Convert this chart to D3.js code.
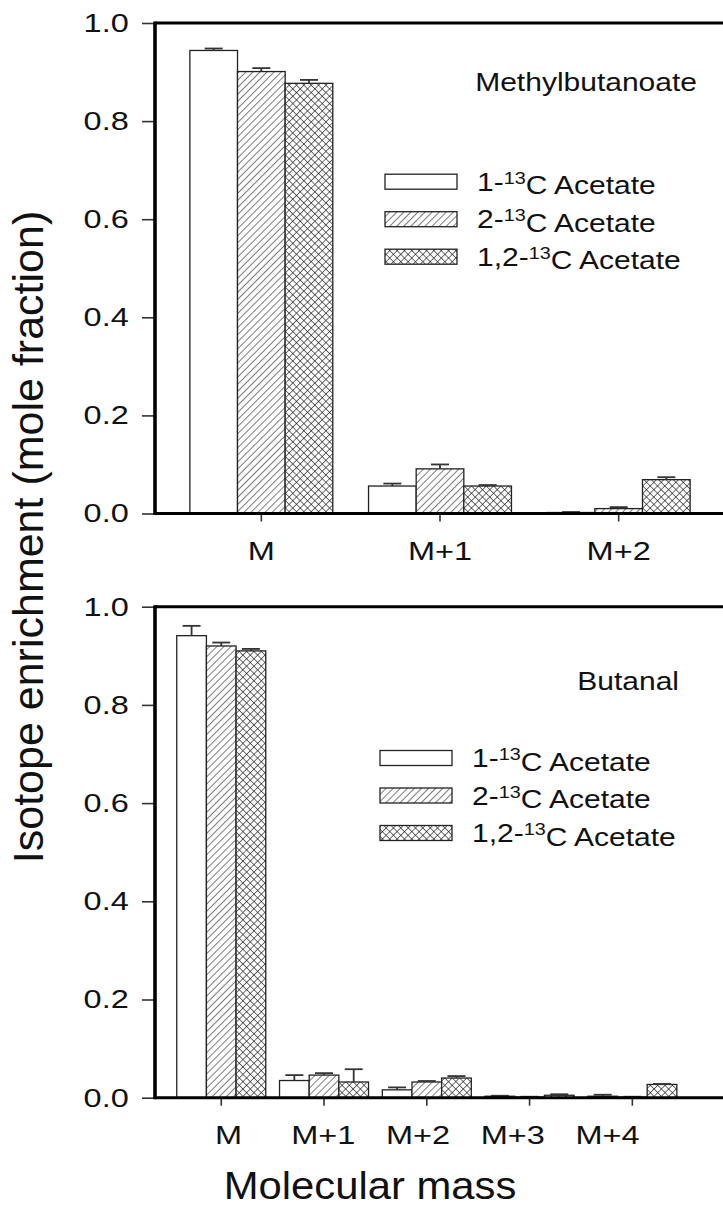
<!DOCTYPE html>
<html>
<head>
<meta charset="utf-8">
<script src="https://cdn.jsdelivr.net/npm/d3@7"></script>
<style>
  body { margin: 0; background: #fff; }
  text { font-family: "Liberation Sans", Arial, sans-serif; fill: #111; }
</style>
</head>
<body>
<div id="chart"></div>
<script>
// series (label parts: prefix, superscript, suffix)
const seriesKeys = ['a1', 'a2', 'a12'];
const seriesLabels = [['1-', '13', 'C Acetate'], ['2-', '13', 'C Acetate'], ['1,2-', '13', 'C Acetate']];
const yTicks = [0, 0.2, 0.4, 0.6, 0.8, 1.0];

// Methylbutanoate
const topCats = ['M', 'M+1', 'M+2'];
const topMean1 = [0.944, 0.056, 0.002];
const topErr1 = [0.004, 0.005, 0.001];
const topMean2 = [0.901, 0.091, 0.010];
const topErr2 = [0.007, 0.009, 0.003];
const topMean3 = [0.877, 0.056, 0.069];
const topErr3 = [0.007, 0.002, 0.005];

// Butanal
const botCats = ['M', 'M+1', 'M+2', 'M+3', 'M+4'];
const botMean1 = [0.941, 0.035, 0.016, 0.003, 0.003];
const botErr1 = [0.020, 0.011, 0.005, 0.001, 0.003];
const botMean2 = [0.920, 0.046, 0.032, 0.001, 0.001];
const botErr2 = [0.007, 0.004, 0.002, 0.001, 0.001];
const botMean3 = [0.910, 0.032, 0.040, 0.005, 0.027];
const botErr3 = [0.004, 0.026, 0.004, 0.002, 0.001];

const W = 723, H = 1209;
const SX = 1.2;   // text in the source is horizontally stretched
const TSX = 1.25; // tick labels a bit more
const fills = ['#fff', 'url(#hatch)', 'url(#cross)'];

const svg = d3.select('#chart').append('svg')
  .attr('width', W)
  .attr('height', H);

svg.append('rect').attr('width', W).attr('height', H).attr('fill', '#fff');

const defs = svg.append('defs');
const hatch = defs.append('pattern')
  .attr('id', 'hatch')
  .attr('patternUnits', 'userSpaceOnUse')
  .attr('width', 5).attr('height', 5)
  .attr('patternTransform', 'rotate(45)');
hatch.append('rect').attr('width', 5).attr('height', 5).attr('fill', '#fff');
hatch.append('line').attr('x1', 0).attr('y1', 0).attr('x2', 0).attr('y2', 5)
  .attr('stroke', '#111').attr('stroke-width', 1.1);

const cross = defs.append('pattern')
  .attr('id', 'cross')
  .attr('patternUnits', 'userSpaceOnUse')
  .attr('width', 5.2).attr('height', 5.2)
  .attr('patternTransform', 'rotate(45)');
cross.append('rect').attr('width', 5.2).attr('height', 5.2).attr('fill', '#fff');
cross.append('line').attr('x1', 0).attr('y1', 0).attr('x2', 0).attr('y2', 5.2)
  .attr('stroke', '#111').attr('stroke-width', 1.2);
cross.append('line').attr('x1', 0).attr('y1', 0).attr('x2', 5.2).attr('y2', 0)
  .attr('stroke', '#111').attr('stroke-width', 1.2);

const addText = (g, x, y, size, anchor, sx = SX) => g.append('text')
  .attr('transform', `translate(${x},${y}) scale(${sx},1)`)
  .attr('text-anchor', anchor)
  .style('font-size', size + 'px');

const supLabel = (t, parts) => {
  t.append('tspan').text(parts[0]);
  t.append('tspan').attr('dy', '-0.42em').style('font-size', '0.66em').text(parts[1]);
  t.append('tspan').attr('dy', '0.42em').text(parts[2]);
};

const styleTicks = (ax) => {
  ax.select('.domain').remove();
  ax.selectAll('.tick line').attr('stroke', '#333').attr('stroke-width', 1.6);
  ax.selectAll('.tick text')
    .attr('transform', `scale(${TSX},1)`)
    .style('font-size', '26px')
    .style('font-family', '"Liberation Sans", Arial, sans-serif')
    .attr('fill', '#111');
};

function panel(cfg) {
  const g = svg.append('g');
  const y = d3.scaleLinear().domain([0, 1]).range([cfg.y0, cfg.y1]);
  const x0 = d3.scaleBand().domain(cfg.cats).range(cfg.xr)
    .paddingInner(cfg.pin).paddingOuter(cfg.pout);
  const x1 = d3.scaleBand().domain(seriesKeys).range([0, x0.bandwidth()]);

  const rows = cfg.cats.map((c, i) => ({
    cat: c,
    vals: seriesKeys.map((k, j) => ({ key: k, j, v: cfg.means[j][i], e: cfg.errs[j][i] }))
  }));

  // y axis
  styleTicks(g.append('g')
    .attr('transform', `translate(${cfg.left},0)`)
    .call(d3.axisLeft(y).tickValues(yTicks).tickFormat(d3.format('.1f'))
      .tickSize(13).tickPadding(8)));

  // x axis: tick marks at the bar groups
  const xa = g.append('g')
    .attr('transform', `translate(0,${cfg.y0})`)
    .call(d3.axisBottom(x0).tickSize(8).tickPadding(20)
      .tickFormat(cfg.labelRange ? '' : null));
  styleTicks(xa);

  // category labels placed on their own scale (they drift from the groups)
  if (cfg.labelRange) {
    const xl = d3.scalePoint().domain(cfg.cats).range(cfg.labelRange);
    const la = g.append('g')
      .attr('transform', `translate(0,${cfg.y0})`)
      .call(d3.axisBottom(xl).tickSize(0).tickPadding(28));
    styleTicks(la);
  }

  // bars
  const grp = g.selectAll('.grp')
    .data(rows)
    .enter().append('g')
      .attr('class', 'grp')
      .attr('transform', d => `translate(${x0(d.cat)},0)`);

  grp.selectAll('.bar')
    .data(d => d.vals)
    .enter().append('rect')
      .attr('class', 'bar')
      .attr('x', d => x1(d.key))
      .attr('width', x1.bandwidth())
      .attr('y', d => y(d.v))
      .attr('height', d => y(0) - y(d.v))
      .attr('fill', d => fills[d.j])
      .attr('stroke', '#222')
      .attr('stroke-width', 1.3);

  // error bars (upper only)
  const eb = grp.selectAll('.err')
    .data(d => d.vals)
    .enter().append('g')
      .attr('class', 'err')
      .attr('stroke', '#333')
      .attr('stroke-width', 1.8);
  eb.append('line')
    .attr('x1', d => x1(d.key) + x1.bandwidth() / 2)
    .attr('x2', d => x1(d.key) + x1.bandwidth() / 2)
    .attr('y1', d => y(d.v))
    .attr('y2', d => y(d.v + d.e));
  eb.append('line')
    .attr('x1', d => x1(d.key) + x1.bandwidth() / 2 - 9)
    .attr('x2', d => x1(d.key) + x1.bandwidth() / 2 + 9)
    .attr('y1', d => y(d.v + d.e))
    .attr('y2', d => y(d.v + d.e));

  // frame
  const frame = g.append('g').attr('stroke', '#000').attr('fill', 'none');
  frame.append('line').attr('x1', cfg.left).attr('x2', cfg.left)
    .attr('y1', cfg.y1 - 1.5).attr('y2', cfg.y0 + 1.5).attr('stroke-width', 3.6);
  frame.append('line').attr('x1', cfg.left).attr('x2', W + 5)
    .attr('y1', cfg.y1).attr('y2', cfg.y1).attr('stroke-width', 3);
  frame.append('line').attr('x1', cfg.left).attr('x2', W + 5)
    .attr('y1', cfg.y0).attr('y2', cfg.y0).attr('stroke-width', 3);

  // panel title
  addText(g, cfg.titleX, cfg.titleY, 25, 'end').text(cfg.title);

  // legend
  const lg = g.append('g');
  seriesKeys.forEach((k, j) => {
    const cy = cfg.legY + j * 37.5;
    lg.append('rect')
      .attr('x', cfg.legX).attr('y', cy - 7.5)
      .attr('width', 72).attr('height', 15)
      .attr('fill', fills[j])
      .attr('stroke', '#222').attr('stroke-width', 1.3);
    supLabel(addText(lg, cfg.legX + 92, cy + 9, 25, 'start'), seriesLabels[j]);
  });
}

panel({
  cats: topCats, means: [topMean1, topMean2, topMean3], errs: [topErr1, topErr2, topErr3],
  y0: 513.5, y1: 23, left: 155, xr: [172, 708], pin: 0.2, pout: 0.1,
  title: 'Methylbutanoate', titleX: 697, titleY: 91, legX: 385, legY: 181.7
});

panel({
  cats: botCats, means: [botMean1, botMean2, botMean3], errs: [botErr1, botErr2, botErr3],
  y0: 1097.7, y1: 606.7, left: 155, xr: [156.2, 697.4], pin: 0.134, pout: 0.2,
  labelRange: [228, 607],
  title: 'Butanal', titleX: 679, titleY: 690, legX: 380, legY: 758
});

// axis titles
addText(svg, 370, 1199, 38, 'middle', 1.1).text('Molecular mass');
svg.append('text')
  .attr('transform', 'translate(43,537) rotate(-90)')
  .attr('text-anchor', 'middle')
  .style('font-size', '43px')
  .text('Isotope enrichment (mole fraction)');
</script>
</body>
</html>
